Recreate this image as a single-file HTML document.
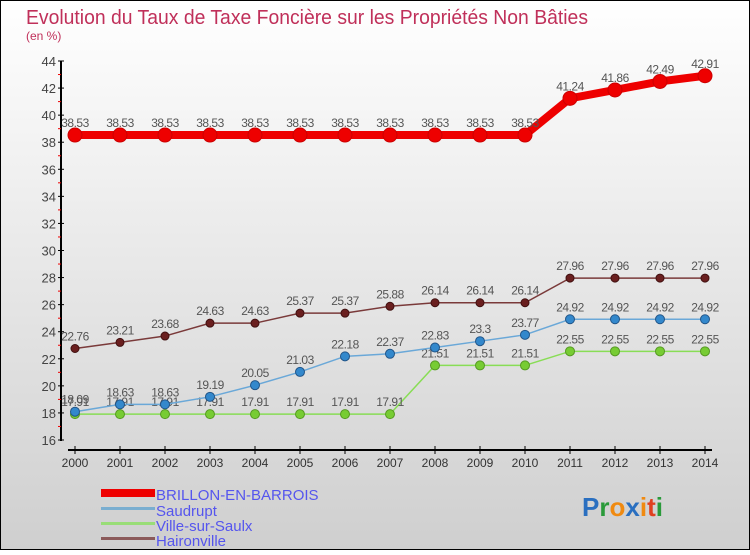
<!DOCTYPE html>
<html><head><meta charset="utf-8"><style>
html,body{margin:0;padding:0}
body{width:750px;height:550px;overflow:hidden;font-family:"Liberation Sans",sans-serif}
</style></head><body>
<svg width="750" height="550" xmlns="http://www.w3.org/2000/svg">
<defs><linearGradient id="bg" x1="0" y1="0" x2="0" y2="1"><stop offset="0" stop-color="#ffffff"/><stop offset="1" stop-color="#cfcfcf"/></linearGradient></defs>
<rect x="0.5" y="0.5" width="749" height="549" fill="url(#bg)" stroke="#000"/>
<text x="26" y="24" font-size="20" fill="#c0305a" textLength="562" lengthAdjust="spacingAndGlyphs">Evolution du Taux de Taxe Foncière sur les Propriétés Non Bâties</text>
<text x="26" y="40" font-size="12" fill="#c0305a">(en %)</text>
<g id="axes"></g>
<g id="series"></g>
<g>
<rect x="101" y="489" width="54" height="8" fill="#ee0000"/>
<text x="156" y="500" font-size="15" fill="#5555ee">BRILLON-EN-BARROIS</text>
<rect x="101" y="507" width="54" height="3" fill="#7aaed0"/>
<text x="156" y="516" font-size="15" fill="#5555ee">Saudrupt</text>
<rect x="101" y="522" width="54" height="3" fill="#99dd77"/>
<text x="156" y="531" font-size="15" fill="#5555ee">Ville-sur-Saulx</text>
<rect x="101" y="537" width="54" height="3" fill="#8b5a5a"/>
<text x="156" y="546" font-size="15" fill="#5555ee">Haironville</text>
</g>
<g font-size="26" font-weight="bold">
<text x="582" y="516"><tspan fill="#2a6fc0">P</tspan><tspan fill="#2a9a3a">r</tspan><tspan fill="#f08a10">o</tspan><tspan fill="#2a6fc0">x</tspan><tspan fill="#f08a10">i</tspan><tspan fill="#e04020">t</tspan><tspan fill="#2a9a3a">i</tspan></text>
</g>
</svg>
<script>
const years=[2000,2001,2002,2003,2004,2005,2006,2007,2008,2009,2010,2011,2012,2013,2014];
const yTicks=[16,18,20,22,24,26,28,30,32,34,36,38,40,42,44];
const brillon=[38.53,38.53,38.53,38.53,38.53,38.53,38.53,38.53,38.53,38.53,38.53,41.24,41.86,42.49,42.91];
const saudrupt=[18.09,18.63,18.63,19.19,20.05,21.03,22.18,22.37,22.83,23.3,23.77,24.92,24.92,24.92,24.92];
const ville=[17.91,17.91,17.91,17.91,17.91,17.91,17.91,17.91,21.51,21.51,21.51,22.55,22.55,22.55,22.55];
const haironville=[22.76,23.21,23.68,24.63,24.63,25.37,25.37,25.88,26.14,26.14,26.14,27.96,27.96,27.96,27.96];
const NS="http://www.w3.org/2000/svg";
const X=i=>75+i*45;
const Y=v=>61+(44-v)*(379/28);
function mk(tag,attrs,parent){const e=document.createElementNS(NS,tag);for(const k in attrs)e.setAttribute(k,attrs[k]);parent.appendChild(e);return e;}
const ax=document.getElementById('axes');
let l=mk('line',{x1:61,y1:61,x2:61,y2:441,stroke:'#000','stroke-width':2},ax);


l=mk('line',{x1:68,y1:450,x2:712,y2:450,stroke:'#000','stroke-width':2},ax);


yTicks.forEach(v=>{
 mk('line',{x1:58,y1:Y(v),x2:64,y2:Y(v),stroke:'#000'},ax);
 if(v<44) mk('line',{x1:58,y1:Y(v+1),x2:61,y2:Y(v+1),stroke:'#e00'},ax);
 const t=mk('text',{x:56,y:Y(v)+5,'text-anchor':'end','font-size':13,fill:'#444'},ax);
 t.textContent=v;
 
 
});
years.forEach((yr,i)=>{
 mk('line',{x1:X(i),y1:446,x2:X(i),y2:454,stroke:'#000'},ax);
 const t=mk('text',{x:X(i),y:467,'text-anchor':'middle','font-size':12,fill:'#333'},ax);
 t.textContent=yr;
 
 
});
const sg=document.getElementById('series');
function series(vals,name,color,dot,stroke,lw,r){
 const g=mk('g',{},sg);
 
 
 const p=mk('polyline',{points:vals.map((v,i)=>X(i)+','+Y(v)).join(' '),fill:'none',stroke:color,'stroke-width':lw},g);
 
 
 vals.forEach((v,i)=>{
  const c=mk('circle',{cx:X(i),cy:Y(v),r:r,fill:dot,stroke:stroke,'stroke-width':1},g);
  
  
  const t=mk('text',{x:X(i),y:Y(v)-8,'text-anchor':'middle','font-size':12,fill:'#555','letter-spacing':'-0.5'},g);
  t.textContent=String(v);
  
  
 });
}
series(ville,'ville-sur-saulx','#88dd55','#77cc33','#559922',1.5,4.5);
series(saudrupt,'saudrupt','#6aa8d8','#3388cc','#225588',1.5,4.5);
series(haironville,'haironville','#7a3a3a','#6a1f1f','#401010',1.5,4);
series(brillon,'brillon','#ee0000','#ee0000','#cc0000',8,7);
</script>
</body></html>
